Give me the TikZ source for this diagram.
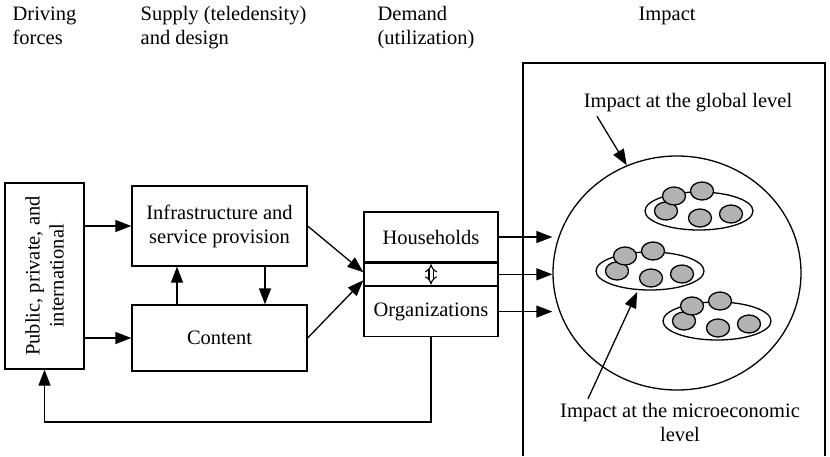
\documentclass[tikz,border=0pt]{standalone}
\usepackage{fontspec}
\setmainfont{Liberation Serif}
\usetikzlibrary{arrows.meta, positioning, shapes.geometric}

\begin{document}
\begin{tikzpicture}[x=1pt, y=1pt, line width=1.3pt,
  font=\fontsize{20.5}{24}\selectfont,
  box/.style={draw, rectangle, inner sep=0pt, align=center},
  arr/.style={-{Triangle[length=16pt, width=12pt]}},
  cluster/.style={draw, ellipse, minimum width=108pt, minimum height=38pt, inner sep=0pt},
  blob/.style={draw, ellipse, fill=black!30, minimum width=23pt, minimum height=18pt, inner sep=0pt},
  heading/.style={anchor=north west, align=left, inner sep=0pt}]

\useasboundingbox (0,0) rectangle (830,456);

% column headings
\node[heading] (hdrive) at (12,450) {Driving\\forces};
\node[heading] (hsupply) at (140,450) {Supply (teledensity)\\and design};
\node[heading] (hdemand) at (377,450) {Demand\\(utilization)};
\node[heading] (himpact) at (638,450) {Impact};

% driving forces
\node[box, minimum width=79pt, minimum height=186pt] (pub) at (44.5,180) {};
\node[rotate=90, align=center] at (pub.center) {Public, private, and\\international};

% supply and design
\node[box, minimum width=175pt, minimum height=80pt] (infra) at (219.5,230) {Infrastructure and\\service provision};
\node[box, minimum width=175pt, minimum height=66pt] (cont) at (219.5,118) {Content};

% demand
\node[box, minimum width=134pt, minimum height=50pt] (house) at (431,219) {Households};
\node[box, minimum width=134pt, minimum height=22pt, below=0pt of house] (mid) {};
\node[box, minimum width=134pt, minimum height=50pt, below=0pt of mid] (org) {Organizations};

% impact
\draw (523,0) -- (523,393) -- (825,393) -- (825,0);
\node[draw, ellipse, minimum width=248pt, minimum height=234pt, inner sep=0pt] (world) at (677,183) {};
\foreach \cx/\cy/\nm in {699/245/topgrp, 650/185/midgrp, 717/135/lowgrp} {
  \node[cluster] (\nm) at (\cx,\cy) {};
  \node[blob] at (\cx-33,\cy) {};
  \node[blob] at (\cx+1,\cy-7) {};
  \node[blob] at (\cx+32,\cy-3) {};
  \node[blob] at (\cx-25,\cy+15) {};
  \node[blob] at (\cx+3,\cy+20) {};
}
\node (glbl) at (688,353) {Impact at the global level};
\node[align=center] (mlbl) at (680,34) {Impact at the microeconomic\\level};
\draw[arr] ([xshift=-91pt]glbl.south) -- (world.115);
\draw[arr, shorten >=2pt] ([xshift=-92pt]mlbl.north) -- (midgrp.238);

% connectors
\draw[arr] (pub.east |- infra.west) -- (infra.west);
\draw[arr] (pub.east |- cont.west) -- (cont.west);
\draw[arr] ([xshift=-42.5pt]cont.north) -- ([xshift=-42.5pt]infra.south);
\draw[arr] ([xshift=45.5pt]infra.south) -- ([xshift=45.5pt]cont.north);
\draw[arr] (infra.east) -- ([yshift=2pt]mid.west);
\draw[arr] (cont.east) -- ([yshift=-6pt]mid.west);
\draw[double, double distance=3pt, line width=1.1pt, {Implies[length=2.5pt]}-{Implies[length=2.5pt]}] ([yshift=-1.5pt]mid.north) -- ([yshift=1.5pt]mid.south);
\draw[arr] (house.east) -- (house.east -| world.west);
\draw[arr] (mid.east) -- (mid.east -| world.west);
\draw[arr] (org.east) -- (org.east -| world.west);
\coordinate (fb) at (0,34);
\draw[arr] (org.south) -- (org.south |- fb) -- (pub.south |- fb) -- (pub.south);
\end{tikzpicture}
\end{document}
